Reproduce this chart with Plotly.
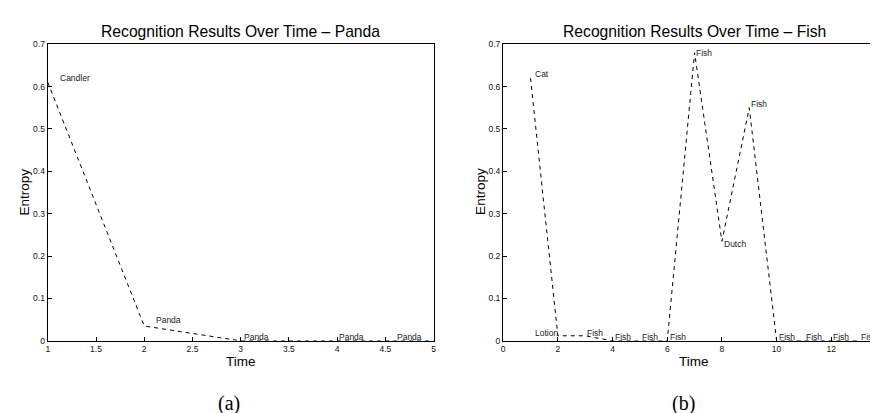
import plotly.graph_objects as go

# Panel (a) - Panda
panda_time = [1, 2, 3, 4, 5]
panda_entropy = [0.61, 0.035, 0.0, 0.0, 0.0]
panda_labels = ["Candler", "Panda", "Panda", "Panda", "Panda"]
panda_label_x = [1.11, 2.1, 3.01, 4.0, 4.6]
panda_label_y = [0.62, 0.05, 0.009, 0.009, 0.009]

# Panel (b) - Fish
fish_time = [1, 2, 3, 4, 5, 6, 7, 8, 9, 10, 11, 12, 13]
fish_entropy = [0.62, 0.012, 0.012, 0.0, 0.0, 0.0, 0.68, 0.235, 0.55, 0.0, 0.0, 0.0, 0.0]
fish_labels = ["Cat", "Lotion", "Fish", "Fish", "Fish", "Fish", "Fish", "Dutch", "Fish",
               "Fish", "Fish", "Fish", "Fish"]
fish_label_x = [1.09, 1.09, 2.99, 4.0, 4.99, 6.01, 6.99, 8.0, 8.99, 10.0, 11.0, 12.0, 13.0]
fish_label_y = [0.629, 0.019, 0.019, 0.009, 0.009, 0.009, 0.679, 0.228, 0.56,
                0.009, 0.009, 0.009, 0.009]

titles = ["Recognition Results Over Time \u2013 Panda", "Recognition Results Over Time \u2013 Fish"]
captions = ["(a)", "(b)"]

W, H = 878, 413
FONT = "Liberation Sans, Arial, Helvetica, sans-serif"

fig = go.Figure()
fig.add_trace(go.Scatter(x=panda_time, y=panda_entropy, mode="lines",
                         line=dict(color="black", width=1, dash="4px,4px"),
                         xaxis="x", yaxis="y", showlegend=False, hoverinfo="skip"))
fig.add_trace(go.Scatter(x=fish_time, y=fish_entropy, mode="lines",
                         line=dict(color="black", width=1, dash="4px,4px"),
                         xaxis="x2", yaxis="y2", showlegend=False, hoverinfo="skip"))

ydom = [(H - 336) / H, (H - 32) / H]
axis_common = dict(showgrid=False, zeroline=False, showline=True, linecolor="black",
                   linewidth=1.4, ticks="inside", ticklen=4, tickcolor="black",
                   tickfont=dict(family=FONT, size=8.5, color="#111"))

fig.update_layout(
    width=W, height=H,
    margin=dict(l=0, r=0, t=0, b=0),
    paper_bgcolor="white", plot_bgcolor="white",
    xaxis=dict(domain=[38 / W, 426 / W], range=[1, 5], tickvals=[1, 1.5, 2, 2.5, 3, 3.5, 4, 4.5, 5],
               ticktext=["1", "1.5", "2", "2.5", "3", "3.5", "4", "4.5", "5"],
               mirror=True, anchor="y", **axis_common),
    yaxis=dict(domain=ydom, range=[0, 0.7], tickvals=[0, 0.1, 0.2, 0.3, 0.4, 0.5, 0.6, 0.7],
               ticktext=["0", "0.1", "0.2", "0.3", "0.4", "0.5", "0.6", "0.7"],
               mirror=True, anchor="x", **axis_common),
    xaxis2=dict(domain=[496 / W, 1.0], range=[0, 382 / 27.5], tickvals=[0, 2, 4, 6, 8, 10, 12, 14],
                ticktext=["0", "2", "4", "6", "8", "10", "12", "14"],
                mirror=True, anchor="y2", **axis_common),
    yaxis2=dict(domain=ydom, range=[0, 0.7], tickvals=[0, 0.1, 0.2, 0.3, 0.4, 0.5, 0.6, 0.7],
                ticktext=["0", "0.1", "0.2", "0.3", "0.4", "0.5", "0.6", "0.7"],
                mirror="ticks", anchor="x2", **axis_common),
)

ann = []
for lab, lx, ly in zip(panda_labels, panda_label_x, panda_label_y):
    ann.append(dict(x=lx, y=ly, xref="x", yref="y", text=lab, showarrow=False,
                    xanchor="left", yanchor="middle",
                    font=dict(family=FONT, size=8.5, color="#222")))
for lab, lx, ly in zip(fish_labels, fish_label_x, fish_label_y):
    ann.append(dict(x=lx, y=ly, xref="x2", yref="y2", text=lab, showarrow=False,
                    xanchor="left", yanchor="middle",
                    font=dict(family=FONT, size=8.5, color="#222")))

# titles
for t, cx in zip(titles, [232, 688]):
    ann.append(dict(x=cx / W, y=(H - 19) / H, xref="paper", yref="paper", text=t,
                    showarrow=False, xanchor="center", yanchor="middle",
                    font=dict(family=FONT, size=15.7, color="black")))
# axis titles
for cx in [232, 688]:
    ann.append(dict(x=cx / W, y=(H - 357) / H, xref="paper", yref="paper", text="Time",
                    showarrow=False, xanchor="center", yanchor="middle",
                    font=dict(family=FONT, size=13.5, color="black")))
for cx in [15, 473]:
    ann.append(dict(x=cx / W, y=(H - 183) / H, xref="paper", yref="paper", text="Entropy",
                    showarrow=False, xanchor="center", yanchor="middle", textangle=-90,
                    font=dict(family=FONT, size=13.5, color="black")))
# captions
for c, cx in zip(captions, [220, 677]):
    ann.append(dict(x=cx / W, y=(H - 400) / H, xref="paper", yref="paper", text=c,
                    showarrow=False, xanchor="center", yanchor="middle",
                    font=dict(family="Liberation Serif", size=20, color="black")))

fig.update_layout(annotations=ann)
fig.write_html("out.html")
